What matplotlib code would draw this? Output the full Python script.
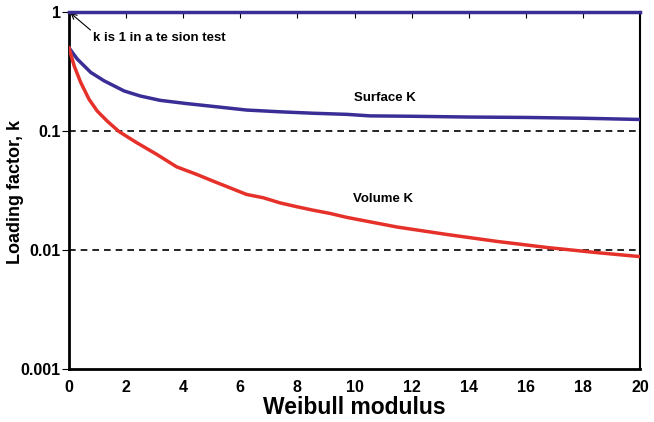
import matplotlib
matplotlib.use("Agg")
import matplotlib.pyplot as plt
from matplotlib.ticker import FixedLocator, FixedFormatter, NullLocator

# Data
surface_m = [0.0, 0.29, 0.76, 1.23, 1.93, 2.49, 3.19, 4.12, 5.04, 6.22, 7.39, 8.55, 9.73,
             10.54, 12.0, 14.0, 16.0, 18.0, 20.0]
surface_k = [0.50, 0.402, 0.311, 0.264, 0.217, 0.197, 0.181, 0.170, 0.161, 0.150, 0.145, 0.141,
             0.138, 0.134, 0.133, 0.131, 0.130, 0.128, 0.125]

volume_m = [0.0, 0.18, 0.41, 0.70, 0.99, 1.34, 1.75, 2.37, 3.07, 3.77, 4.47, 5.05, 5.64,
            6.22, 6.80, 7.39, 7.98, 8.55, 9.14, 9.73, 11.49, 13.24, 15.0, 16.74, 18.5, 20.0]
volume_k = [0.50, 0.353, 0.256, 0.185, 0.147, 0.121, 0.0990, 0.0798, 0.0637, 0.0500, 0.0432,
            0.0379, 0.0333, 0.0293, 0.0275, 0.0249, 0.0231, 0.0216, 0.0203, 0.0188, 0.0156,
            0.0135, 0.0118, 0.0105, 0.0095, 0.0088]

tension_m = [0.0, 20.0]
tension_k = [1.0, 1.0]

ref_levels = [0.1, 0.01]
x_ticks = [0, 2, 4, 6, 8, 10, 12, 14, 16, 18, 20]
y_ticks = [0.001, 0.01, 0.1, 1]
y_tick_labels = ["0.001", "0.01", "0.1", "1"]

plt.rcParams['font.family'] = ['Liberation Sans', 'DejaVu Sans']

fig = plt.figure(figsize=(6.54, 4.22), dpi=100)
ax = fig.add_axes([69/654, 53/422, (640-69)/654, (369-12)/422])

blue = '#3a2e96'
red = '#e5312a'

for lv in ref_levels:
    ax.plot([0, 20], [lv, lv], color='black', lw=1.2, dashes=(4, 3), zorder=2)

ax.plot(tension_m, tension_k, color=blue, lw=2.5, zorder=4, clip_on=False)
ax.plot(surface_m, surface_k, color=blue, lw=2.5, zorder=3)
ax.plot(volume_m, volume_k, color=red, lw=2.5, zorder=3)

ax.set_yscale('log')
ax.set_xlim(0, 20)
ax.set_ylim(0.001, 1)

ax.yaxis.set_major_locator(FixedLocator(y_ticks))
ax.yaxis.set_major_formatter(FixedFormatter(y_tick_labels))
ax.yaxis.set_minor_locator(NullLocator())
ax.xaxis.set_major_locator(FixedLocator(x_ticks))

ax.tick_params(axis='x', which='major', bottom=False, top=True, direction='in', length=4,
               labelsize=11.5, pad=8)
ax.tick_params(axis='y', which='major', left=True, direction='out', length=5, labelsize=11.5, pad=1)
for lab in ax.get_xticklabels() + ax.get_yticklabels():
    lab.set_fontweight('bold')

ax.spines['left'].set_linewidth(2)
ax.spines['bottom'].set_linewidth(2)
ax.spines['right'].set_linewidth(1.5)
ax.spines['top'].set_linewidth(1)

ax.set_xlabel('Weibull modulus', fontsize=16.5, fontweight='bold', labelpad=1)
ax.set_ylabel('Loading factor, k', fontsize=13, fontweight='bold')
ax.yaxis.set_label_coords((24 - 69) / 571, 0.496)

ax.text(11.05, 0.19, 'Surface K', fontsize=9.5, fontweight='bold', ha='center', va='center')
ax.text(11.0, 0.0266, 'Volume K', fontsize=9.5, fontweight='bold', ha='center', va='center')
ax.annotate('k is 1 in a te sion test', xy=(0.05, 0.98), xytext=(0.85, 0.60),
            fontsize=9.5, fontweight='bold', ha='left', va='center',
            arrowprops=dict(arrowstyle='->', color='black', lw=0.8, shrinkA=0, shrinkB=0,
                            relpos=(0, 1)))

fig.savefig('out.png', dpi=100)
